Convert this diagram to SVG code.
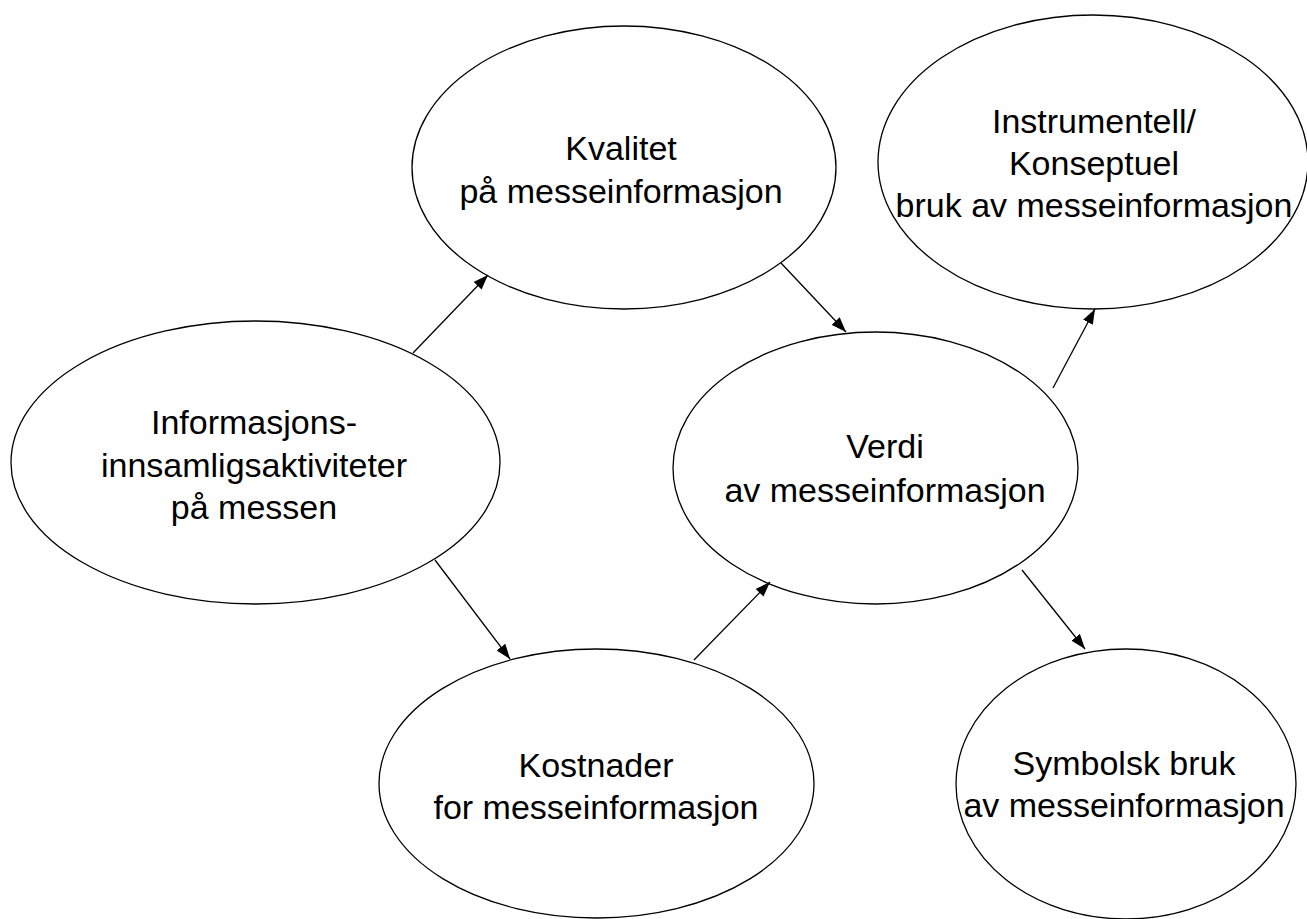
<svg xmlns="http://www.w3.org/2000/svg" width="1307" height="919" viewBox="0 0 1307 919">
<style>
.node ellipse { fill: #ffffff; stroke: #000000; stroke-width: 1.3; }
.node text { font-family: "Liberation Sans", Arial, sans-serif; font-size: 34px; fill: #000000; text-anchor: middle; }
.edge { stroke: #000000; stroke-width: 1.3; fill: none; marker-end: url(#arrow); }
</style>
<defs>
<marker id="arrow" markerUnits="userSpaceOnUse" markerWidth="15" markerHeight="11" refX="15" refY="5.5" orient="auto">
<path d="M0,0 L15,5.5 L0,11 z" fill="#000000"/>
</marker>
</defs>
<rect width="1307" height="919" fill="#ffffff"/>
<g id="kvalitet" class="node">
<ellipse cx="624" cy="167.5" rx="212" ry="141.5"/>
<text x="621" y="160">Kvalitet</text>
<text x="621" y="203">på messeinformasjon</text>
</g>
<g id="instrumentell" class="node">
<ellipse cx="1093" cy="162" rx="215" ry="147"/>
<text x="1094" y="133">Instrumentell/</text>
<text x="1094" y="175">Konseptuel</text>
<text x="1094" y="217">bruk av messeinformasjon</text>
</g>
<g id="informasjons" class="node">
<ellipse cx="255.5" cy="462.5" rx="244.5" ry="141.5"/>
<text x="254" y="434">Informasjons-</text>
<text x="254" y="477">innsamligsaktiviteter</text>
<text x="254" y="519">på messen</text>
</g>
<g id="verdi" class="node">
<ellipse cx="875.5" cy="468" rx="202.5" ry="136"/>
<text x="885" y="458">Verdi</text>
<text x="885" y="502">av messeinformasjon</text>
</g>
<g id="kostnader" class="node">
<ellipse cx="596.5" cy="783.5" rx="217.5" ry="134.5"/>
<text x="596" y="777">Kostnader</text>
<text x="596" y="819">for messeinformasjon</text>
</g>
<g id="symbolsk" class="node">
<ellipse cx="1126" cy="784" rx="170" ry="135"/>
<text x="1124" y="775">Symbolsk bruk</text>
<text x="1124" y="817">av messeinformasjon</text>
</g>
<g id="connectors">
<line class="edge" x1="413" y1="353" x2="488" y2="275"/>
<line class="edge" x1="781" y1="263" x2="846" y2="332"/>
<line class="edge" x1="435" y1="560" x2="510" y2="659"/>
<line class="edge" x1="694" y1="660" x2="770" y2="582"/>
<line class="edge" x1="1053" y1="388" x2="1095" y2="309"/>
<line class="edge" x1="1022" y1="570" x2="1085" y2="649"/>
</g>
</svg>
